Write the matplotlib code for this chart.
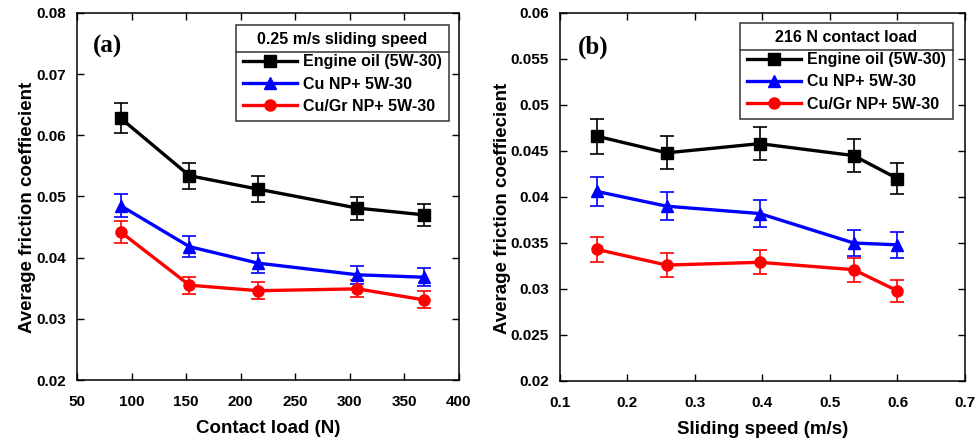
import matplotlib
matplotlib.use("Agg")
import matplotlib.pyplot as plt
from matplotlib.lines import Line2D
from matplotlib.ticker import FuncFormatter, MultipleLocator

plt.rcParams['font.family'] = ['Liberation Sans', 'DejaVu Sans']
plt.rcParams['font.weight'] = 'bold'

series_names = ['Engine oil (5W-30)', 'Cu NP+ 5W-30', 'Cu/Gr NP+ 5W-30']

# (a) friction vs contact load at 0.25 m/s
load_n = [90, 153, 216, 307, 368]
load_oil = [0.0628, 0.0534, 0.0512, 0.0481, 0.0470]
load_oil_err = [0.0025, 0.0021, 0.0021, 0.0019, 0.0018]
load_cu = [0.0485, 0.0418, 0.0391, 0.0372, 0.0368]
load_cu_err = [0.0019, 0.0017, 0.0016, 0.0015, 0.0015]
load_cugr = [0.0442, 0.0355, 0.0346, 0.0349, 0.0331]
load_cugr_err = [0.0018, 0.0014, 0.0014, 0.0014, 0.0014]

# (b) friction vs sliding speed at 216 N
speed_ms = [0.155, 0.258, 0.396, 0.535, 0.600]
speed_oil = [0.0466, 0.0448, 0.0458, 0.0445, 0.0420]
speed_oil_err = [0.0019, 0.0018, 0.0018, 0.0018, 0.0017]
speed_cu = [0.0406, 0.0390, 0.0382, 0.0350, 0.0348]
speed_cu_err = [0.0016, 0.0015, 0.0015, 0.0014, 0.0014]
speed_cugr = [0.0343, 0.0326, 0.0329, 0.0321, 0.0298]
speed_cugr_err = [0.0014, 0.0013, 0.0013, 0.0013, 0.0012]

colors = ['black', '#0000ff', '#ff0000']
markers = ['s', '^', 'o']
msizes = [8, 8.5, 8]

W, H = 978, 440
fig = plt.figure(figsize=(W / 100, H / 100), dpi=100, facecolor='white')
ax1 = fig.add_axes([77 / W, (H - 380) / H, 382 / W, 367 / H])
ax2 = fig.add_axes([560 / W, (H - 381) / H, 405 / W, 368 / H])


def fmt(v, pos):
    return '%g' % round(v, 4)


def draw(ax, x, ys, errs, title, anchor, tag, xlabel, xlim, xstep, ylim, ystep):
    handles = []
    for y, e, c, m, ms, name in zip(ys, errs, colors, markers, msizes, series_names):
        ax.errorbar(x, y, yerr=e, color=c, marker=m, markersize=ms, lw=2.4,
                    elinewidth=1.2, capsize=5, capthick=1.2)
        handles.append(Line2D([], [], color=c, marker=m, markersize=ms, lw=2.4))
    ax.set_xlim(*xlim)
    ax.set_ylim(*ylim)
    ax.xaxis.set_major_locator(MultipleLocator(xstep))
    ax.yaxis.set_major_locator(MultipleLocator(ystep))
    ax.xaxis.set_major_formatter(FuncFormatter(fmt))
    ax.yaxis.set_major_formatter(FuncFormatter(fmt))
    ax.tick_params(direction='in', top=True, right=True, length=5, width=1,
                   labelsize=11)
    ax.tick_params(axis='x', pad=11)
    ax.tick_params(axis='y', pad=8)
    for s in ax.spines.values():
        s.set_linewidth(1.1)
    ax.set_xlabel(xlabel, fontsize=13.5, fontweight='bold', labelpad=8)
    ax.set_ylabel('Average friction coeffiecient', fontsize=13.5,
                  fontweight='bold', labelpad=0)
    ax.yaxis.label.set_y(0.47)
    ax.text(0.081, 0.908, tag, transform=ax.transAxes, ha='center', va='center',
            fontsize=18, fontweight='bold', family=['Liberation Serif', 'DejaVu Serif'])
    leg = ax.legend(handles, series_names, loc='upper right', bbox_to_anchor=anchor,
                    borderaxespad=0, title=title,
                    title_fontproperties={'weight': 'bold', 'size': 11.5},
                    prop={'weight': 'bold', 'size': 11.5}, fancybox=False,
                    framealpha=1, edgecolor='#333333', numpoints=1,
                    handlelength=3.4, handletextpad=0.35, labelspacing=0.45,
                    borderpad=0.45)
    leg.get_frame().set_linewidth(1.1)
    return leg


leg1 = draw(ax1, load_n, [load_oil, load_cu, load_cugr],
            [load_oil_err, load_cu_err, load_cugr_err],
            '0.25 m/s sliding speed', (0.974, 0.967), '(a)', 'Contact load (N)',
            (50, 400), 50, (0.02, 0.08), 0.01)
leg2 = draw(ax2, speed_ms, [speed_oil, speed_cu, speed_cugr],
            [speed_oil_err, speed_cu_err, speed_cugr_err],
            '216 N contact load', (0.970, 0.973), '(b)', 'Sliding speed (m/s)',
            (0.1, 0.7), 0.1, (0.02, 0.06), 0.005)

# separator line under the legend title
fig.canvas.draw()
inv = fig.transFigure.inverted()
for leg in (leg1, leg2):
    fb = leg.get_frame().get_window_extent()
    tb = leg.get_title().get_window_extent()
    ysep = tb.y0 - 5
    (x0, y0) = inv.transform((fb.x0, ysep))
    (x1, _) = inv.transform((fb.x1, ysep))
    fig.add_artist(Line2D([x0, x1], [y0, y0], color='#333333', lw=1.1,
                          transform=fig.transFigure))

fig.savefig('out.png', dpi=100)
